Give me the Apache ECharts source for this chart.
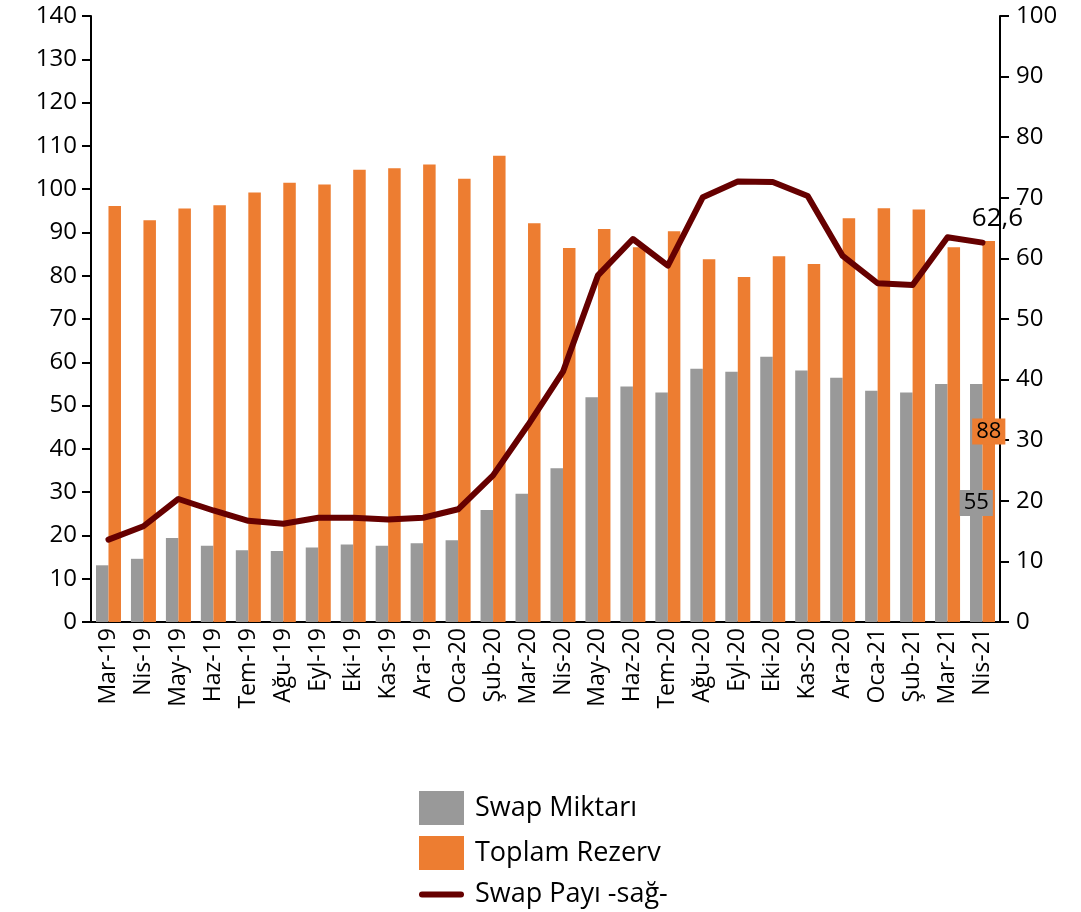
<!DOCTYPE html>
<html>
<head>
<meta charset="utf-8">
<title>Swap</title>
<script src="https://cdn.jsdelivr.net/npm/echarts@6/dist/echarts.min.js"></script>
<style>
  html, body { margin: 0; padding: 0; background: #fff; }
  #main { width: 1081px; height: 912px; }
</style>
</head>
<body>
<div id="main"></div>
<script type="text/javascript">
// aylar
var months = ['Mar-19', 'Nis-19', 'May-19', 'Haz-19', 'Tem-19', 'Ağu-19', 'Eyl-19', 'Eki-19', 'Kas-19', 'Ara-19',
  'Oca-20', 'Şub-20', 'Mar-20', 'Nis-20', 'May-20', 'Haz-20', 'Tem-20', 'Ağu-20', 'Eyl-20', 'Eki-20',
  'Kas-20', 'Ara-20', 'Oca-21', 'Şub-21', 'Mar-21', 'Nis-21'];

// swap miktari (sol eksen)
var swapMiktari = [13.1, 14.6, 19.4, 17.6, 16.6, 16.4, 17.2, 17.9, 17.6, 18.2,
  18.9, 25.9, 29.6, 35.5, 51.9, 54.4, 53.0, 58.5, 57.8, 61.3,
  58.1, 56.4, 53.4, 53.0, 55.0, 55];

// toplam rezerv (sol eksen)
var toplamRezerv = [96.1, 92.8, 95.5, 96.3, 99.2, 101.5, 101.1, 104.5, 104.8, 105.7,
  102.4, 107.7, 92.1, 86.4, 90.8, 86.6, 90.3, 83.8, 79.7, 84.5,
  82.7, 93.3, 95.6, 95.3, 86.6, 88];

// swap payi % (sag eksen)
var swapPayi = [13.6, 15.8, 20.3, 18.4, 16.7, 16.2, 17.2, 17.2, 16.9, 17.2,
  18.6, 24.2, 32.5, 41.3, 57.2, 63.2, 58.8, 70.1, 72.7, 72.6,
  70.3, 60.4, 55.9, 55.6, 63.5, 62.6];

var leftTicks = { min: 0, max: 140, interval: 10 };
var rightTicks = { min: 0, max: 100, interval: 10 };

var fontName = 'Open Sans';
var last = months.length - 1;

function commaFmt(p) { return String(p.value).replace('.', ','); }

// sadece son degere etiket
function lastLabel(arr, lbl) {
    return arr.map(function (v, i) {
        if (i !== last) return v;
        return { value: v, label: lbl };
    });
}

var myChart = echarts.init(document.getElementById('main'));

var axisLineStyle = { show: true, lineStyle: { color: '#000', width: 2 } };
var tickStyle = { show: true, length: 9, lineStyle: { color: '#000', width: 2 } };

var option = {
    animation: false,
    textStyle: { fontFamily: fontName },
    grid: { left: 91, right: 81, top: 16, bottom: 290, containLabel: false },
    legend: {
        orient: 'vertical',
        left: 414,
        top: 786,
        itemWidth: 45,
        itemHeight: 34,
        itemGap: 11,
        textStyle: { fontSize: 27, color: '#000', fontFamily: fontName, padding: [0, 0, 0, 6] },
        data: [
            { name: 'Swap Miktarı', icon: 'rect' },
            { name: 'Toplam Rezerv', icon: 'rect' },
            { name: 'Swap Payı -sağ-', icon: 'path://M3,0 L42,0 A3,3 0 0 1 42,6 L3,6 A3,3 0 0 1 3,0 Z' }
        ]
    },
    xAxis: {
        type: 'category',
        data: months,
        boundaryGap: true,
        axisLine: axisLineStyle,
        axisTick: { show: false },
        axisLabel: {
            rotate: 90,
            interval: 0,
            color: '#000',
            fontSize: 23,
            fontFamily: fontName,
            margin: 6
        }
    },
    yAxis: [
        {
            type: 'value',
            min: leftTicks.min,
            max: leftTicks.max,
            interval: leftTicks.interval,
            splitLine: { show: false },
            axisLine: axisLineStyle,
            axisTick: tickStyle,
            axisLabel: { color: '#000', fontSize: 24, fontFamily: fontName, margin: 14 }
        },
        {
            type: 'value',
            min: rightTicks.min,
            max: rightTicks.max,
            interval: rightTicks.interval,
            position: 'right',
            splitLine: { show: false },
            axisLine: axisLineStyle,
            axisTick: tickStyle,
            axisLabel: { color: '#000', fontSize: 24, fontFamily: fontName, margin: 16 }
        }
    ],
    series: [
        {
            name: 'Swap Miktarı',
            type: 'bar',
            yAxisIndex: 0,
            barWidth: 12.5,
            barGap: '0%',
            itemStyle: { color: '#999999' },
            data: lastLabel(swapMiktari, {
                show: true, position: 'inside', color: '#000', fontSize: 22,
                backgroundColor: '#999999', padding: [3, 4, 1, 4], formatter: commaFmt
            })
        },
        {
            name: 'Toplam Rezerv',
            type: 'bar',
            yAxisIndex: 0,
            barWidth: 12.5,
            barGap: '0%',
            itemStyle: { color: '#ED7D31' },
            data: lastLabel(toplamRezerv, {
                show: true, position: 'inside', color: '#000', fontSize: 22,
                backgroundColor: '#ED7D31', padding: [3, 4, 1, 4], formatter: commaFmt
            })
        },
        {
            name: 'Swap Payı -sağ-',
            type: 'line',
            yAxisIndex: 1,
            symbol: 'circle',
            symbolSize: 0,
            z: 5,
            itemStyle: { color: '#660000' },
            lineStyle: { color: '#660000', width: 6, cap: 'round', join: 'round' },
            data: lastLabel(swapPayi, {
                show: true, position: 'top', offset: [15, -6], color: '#000',
                fontSize: 26, formatter: commaFmt
            })
        }
    ]
};

myChart.setOption(option);
</script>
</body>
</html>
